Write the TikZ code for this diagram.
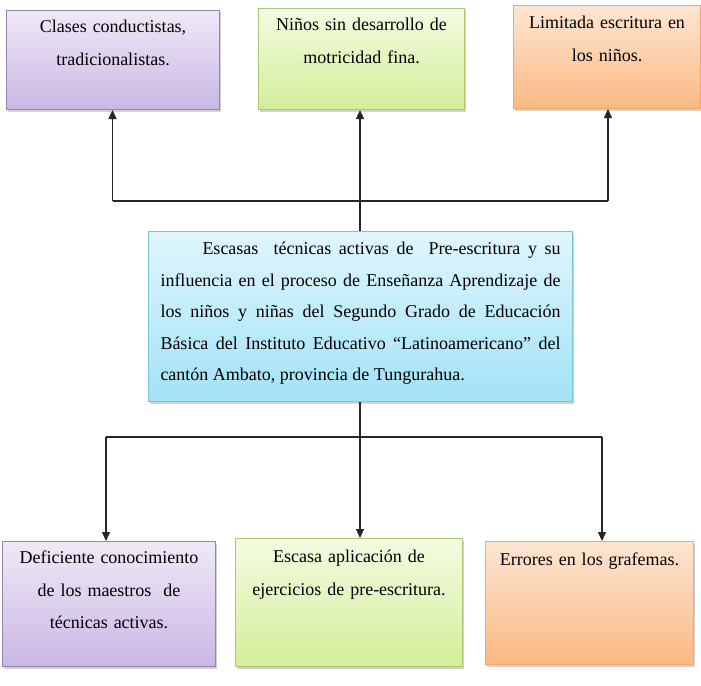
\documentclass[tikz,border=0pt]{standalone}
\usepackage{fontspec}
\setmainfont{Liberation Serif}
\usetikzlibrary{arrows.meta,shadows}
\definecolor{purTop}{HTML}{EFE9F7}
\definecolor{purBot}{HTML}{C9B7E4}
\definecolor{purLine}{HTML}{9384B0}
\definecolor{grnTop}{HTML}{F4FBE2}
\definecolor{grnBot}{HTML}{D3EE98}
\definecolor{grnLine}{HTML}{A9C772}
\definecolor{orTop}{HTML}{FDE6D2}
\definecolor{orBot}{HTML}{FBB983}
\definecolor{orLine}{HTML}{F2A566}
\definecolor{bluTop}{HTML}{E0F6FD}
\definecolor{bluBot}{HTML}{A2E2F7}
\definecolor{bluLine}{HTML}{78C3D8}
\tikzset{
  box/.style={draw, line width=1pt, inner sep=0pt, anchor=north west,
    drop shadow={opacity=0.35, shadow xshift=1.5pt, shadow yshift=-2pt}},
  purbox/.style={box, draw=purLine, top color=purTop, bottom color=purBot},
  grnbox/.style={box, draw=grnLine, top color=grnTop, bottom color=grnBot},
  orbox/.style={box, draw=orLine, top color=orTop, bottom color=orBot},
  blubox/.style={box, draw=bluLine, top color=bluTop, bottom color=bluBot},
  txt/.style={inner sep=0pt, anchor=north, align=center, text=black,
    font=\fontsize{18}{32.5}\selectfont},
  conn/.style={line width=1.3pt, black!85},
  arr/.style={conn, -{Triangle[width=8pt,length=9pt]}}
}
\begin{document}
\begin{tikzpicture}[x=1pt,y=1pt]
\useasboundingbox (0,0) rectangle (701,-685);
\fill[white] (0,0) rectangle (701,-685);
% top boxes
\node[purbox, minimum width=213pt, minimum height=99pt] (b1) at (6,-10) {};
\node[grnbox, minimum width=206pt, minimum height=101pt] (b2) at (258,-8) {};
\node[orbox, minimum width=187pt, minimum height=103pt] (b3) at (513,-5) {};
% central box
\node[blubox, minimum width=424pt, minimum height=170pt] (c) at (148,-231) {};
% bottom boxes
\node[purbox, minimum width=213pt, minimum height=125pt] (b4) at (2,-541) {};
\node[grnbox, minimum width=227pt, minimum height=128pt] (b5) at (235,-538) {};
\node[orbox, minimum width=208pt, minimum height=123pt] (b6) at (485,-541) {};
% texts
\node[txt, text width=205pt] (t1) at ([yshift=-10pt]b1.north) {Clases conductistas,\\tradicionalistas.};
\node[txt, text width=200pt] (t2) at ([yshift=-10pt]b2.north) {Niños sin desarrollo de\\motricidad fina.};
\node[txt, text width=185pt] (t3) at ([yshift=-11pt]b3.north) {Limitada escritura en\\los niños.};
\node[txt, text width=205pt] (t4) at ([yshift=-10pt]b4.north) {Deficiente conocimiento\\de los maestros\ \ de\\técnicas activas.};
\node[txt, text width=225pt] (t5) at ([yshift=-12pt]b5.north) {Escasa aplicación de\\ejercicios de pre-escritura.};
\node[txt, text width=205pt] (t6) at ([yshift=-12pt]b6.north) {Errores en los grafemas.};
\node[txt, align=justify, text width=400pt, font=\fontsize{18}{31.5}\selectfont] (tc) at ([yshift=-11pt]c.north)
 {\hspace*{42pt}Escasas\ \ técnicas activas de\ \ Pre-escritura y su\linebreak
  influencia en el proceso de Enseñanza Aprendizaje de\linebreak
  los niños y niñas del Segundo Grado de Educación\linebreak
  Básica del Instituto Educativo “Latinoamericano” del\linebreak
  cantón Ambato, provincia de Tungurahua.};
% top connectors
\coordinate (jt) at (360,-201);
\coordinate (jtl) at (112.5,-201);
\coordinate (jtr) at (608,-201);
\draw[arr] (c.north -| jt) -- (jt |- b2.south);
\draw[conn] (jtl) -- (jtr);
\draw[arr] (jtl) -- (jtl |- b1.south);
\draw[arr] (jtr) -- (jtr |- b3.south);
% bottom connectors
\coordinate (jb) at (360,-437);
\coordinate (jbl) at (106,-437);
\coordinate (jbr) at (602,-437);
\draw[arr] (c.south -| jb) -- (jb |- b5.north);
\draw[conn] (jbl) -- (jbr);
\draw[arr] (jbl) -- (jbl |- b4.north);
\draw[arr] (jbr) -- (jbr |- b6.north);
\end{tikzpicture}
\end{document}
